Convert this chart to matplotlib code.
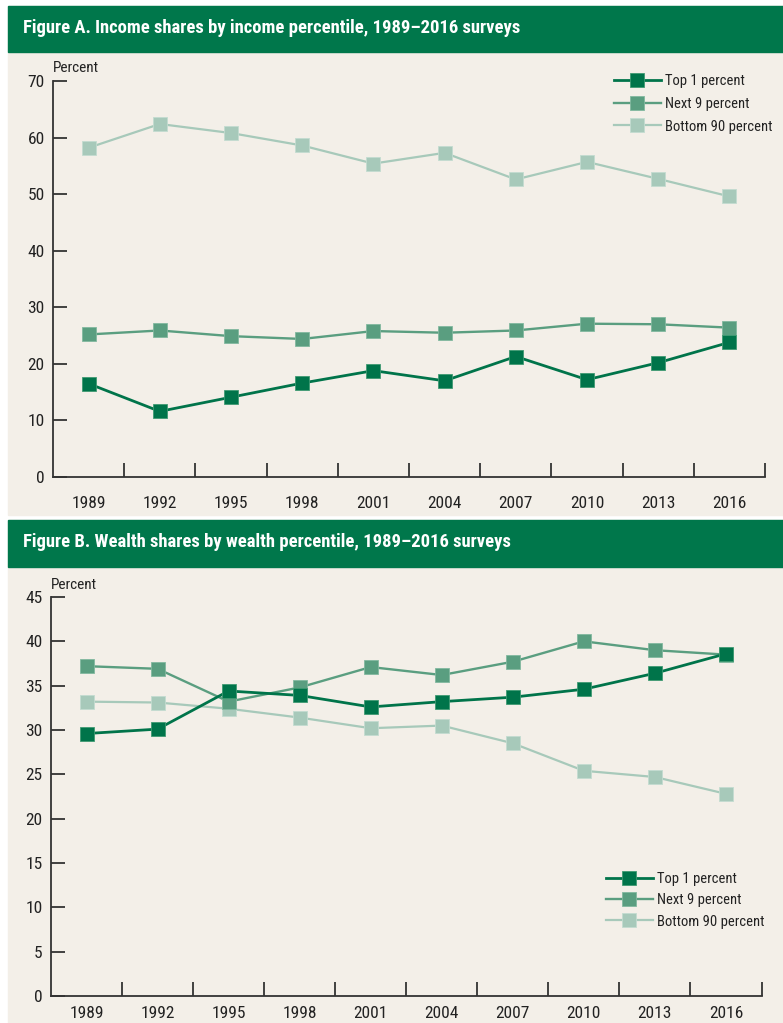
import matplotlib
matplotlib.use('Agg')
from matplotlib import pyplot as plt
from matplotlib.patches import Rectangle

years = ['1989', '1992', '1995', '1998', '2001', '2004', '2007', '2010', '2013', '2016']
series_labels = ['Top 1 percent', 'Next 9 percent', 'Bottom 90 percent']

# Figure A, income shares (percent)
income_top1 = [16.5, 11.6, 14.1, 16.6, 18.8, 17.0, 21.3, 17.2, 20.2, 23.8]
income_next9 = [25.2, 25.9, 24.9, 24.4, 25.8, 25.5, 25.9, 27.1, 27.0, 26.4]
income_bottom90 = [58.2, 62.4, 60.8, 58.6, 55.4, 57.3, 52.6, 55.7, 52.7, 49.6]

# Figure B, wealth shares (percent)
wealth_top1 = [29.6, 30.1, 34.4, 33.9, 32.6, 33.2, 33.7, 34.6, 36.4, 38.6]
wealth_next9 = [37.2, 36.9, 33.2, 34.8, 37.1, 36.2, 37.7, 40.0, 39.0, 38.5]
wealth_bottom90 = [33.2, 33.1, 32.4, 31.4, 30.2, 30.5, 28.5, 25.4, 24.7, 22.8]

W, H = 783, 1023
green = '#00774b'
beige = '#f3efe8'
colors = ['#00744a', '#5a9e80', '#a7c9ba']
edges = ['#3f9a72', '#82b89f', '#c3dcd0']
axis_col = '#333333'

plt.rcParams['font.family'] = ['Roboto Condensed', 'Archivo Narrow', 'PT Sans Narrow',
                               'Liberation Sans Narrow', 'DejaVu Sans']

fig = plt.figure(figsize=(W / 100, H / 100), dpi=100, facecolor='white')


def fx(x):
    return x / W


def fy(y):
    return 1 - y / H


def panel(top, bottom, head_bottom, title, title_y):
    # beige body and green header bar
    fig.add_artist(Rectangle((fx(8), fy(bottom)), fx(W - 8), (bottom - top) / H,
                             transform=fig.transFigure, color=beige, zorder=-2))
    fig.add_artist(Rectangle((fx(8), fy(head_bottom)), fx(W - 8), (head_bottom - top) / H,
                             transform=fig.transFigure, color=green, zorder=-1))
    fig.text(fx(23), fy(title_y), title, color='white', fontsize=13.4,
             fontweight='bold', va='center', ha='left')


def chart(rect, series, ymax, ystep, label_pad, pct_xy, leg_xy, leg_spacing):
    ax = fig.add_axes(rect)
    ax.set_facecolor('none')
    x = range(len(years))
    # draw bottom 90 first so top 1 sits on top
    handles = []
    for vals, c, e, lab, lw in zip(series[::-1], colors[::-1], edges[::-1],
                                   series_labels[::-1], [1.6, 1.7, 2.0]):
        h, = ax.plot(x, vals, color=c, lw=lw, marker='s', markersize=9.5,
                     markerfacecolor=c, markeredgecolor=e, markeredgewidth=0.6,
                     label=lab, solid_joinstyle='miter')
        handles.append(h)
    handles = handles[::-1]

    ax.set_xlim(-0.5, len(years) - 0.5)
    ax.set_ylim(0, ymax)
    ax.set_yticks(range(0, ymax + 1, ystep))
    ax.set_xticks(list(x))
    ax.set_xticklabels(years)
    ax.set_xticks([i + 0.5 for i in x], minor=True)
    ax.tick_params(axis='x', which='major', length=0, pad=label_pad,
                   labelsize=12.5, labelcolor='#222222')
    ax.tick_params(axis='x', which='minor', direction='in', length=10,
                   width=1.3, color=axis_col)
    ax.tick_params(axis='y', direction='in', length=10, width=1.3,
                   color=axis_col, pad=6, labelsize=12.5, labelcolor='#222222')
    for s in ['top', 'right']:
        ax.spines[s].set_visible(False)
    for s in ['left', 'bottom']:
        ax.spines[s].set_color(axis_col)
        ax.spines[s].set_linewidth(1.3)

    fig.text(fx(pct_xy[0]), fy(pct_xy[1]), 'Percent', fontsize=11,
             color='#222222', va='center', ha='left')

    ax.legend(handles, series_labels, loc='upper left',
              bbox_to_anchor=(fx(leg_xy[0]), fy(leg_xy[1])),
              bbox_transform=fig.transFigure, frameon=False, fontsize=10.5,
              borderpad=0, borderaxespad=0, handlelength=3.2,
              handletextpad=0.27, labelspacing=leg_spacing, numpoints=1,
              labelcolor='#222222')
    return ax


panel(6, 515, 52, 'Figure A. Income shares by income percentile, 1989\u20132016 surveys', 28)
panel(520, H, 567, 'Figure B. Wealth shares by wealth percentile, 1989\u20132016 surveys', 542)

chart([fx(53), fy(477), (765 - 53) / W, (477 - 81) / H],
      [income_top1, income_next9, income_bottom90], 70, 10, 14,
      (53, 68), (614, 74), 0.6)

chart([fx(51), fy(996), (761.5 - 51) / W, (996 - 597) / H],
      [wealth_top1, wealth_next9, wealth_bottom90], 45, 5, 7,
      (51, 585), (606, 872), 0.5)

fig.savefig('out.png', dpi=100, facecolor='white')
